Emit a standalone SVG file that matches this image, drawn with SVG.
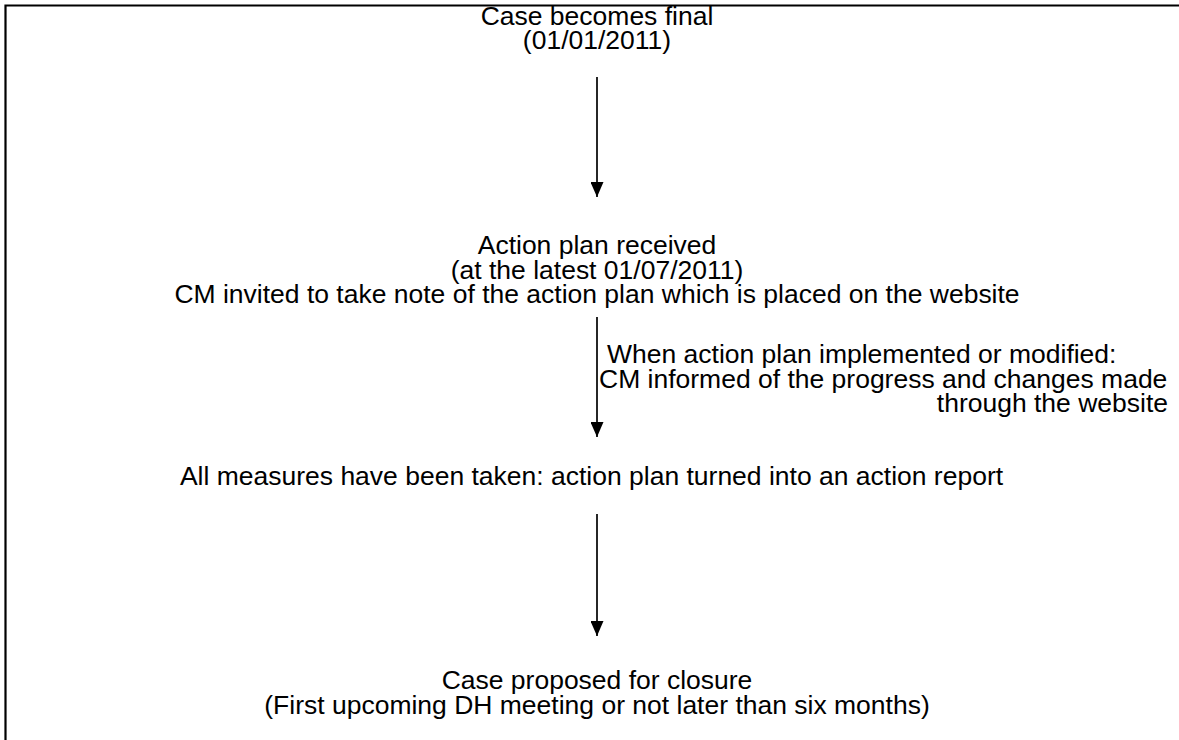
<svg xmlns="http://www.w3.org/2000/svg" width="1179" height="740" viewBox="0 0 1179 740">
<style>
text{font-family:"Liberation Sans",Arial,sans-serif;font-size:25px;fill:#000}
.c{text-anchor:middle}
.e{text-anchor:end}
.frame{fill:none;stroke:#000;stroke-width:2.2}
.conn line{stroke:#000;stroke-width:1.7}
</style>
<defs>
<marker id="ah" viewBox="0 0 15 13" refX="15" refY="6.5" markerWidth="15" markerHeight="13" markerUnits="userSpaceOnUse" orient="auto">
<path d="M0,0 L15,6.5 L0,13 Z" fill="#000"/>
</marker>
</defs>
<rect width="1179" height="740" fill="#fff"/>
<path class="frame" d="M5.5,740 V5.5 H1179"/>
<g id="n1">
<text class="c" transform="translate(597 24.5) scale(1.06 1)">Case becomes final</text>
<text class="c" transform="translate(597 49) scale(1.06 1)">(01/01/2011)</text>
</g>
<g id="n2">
<text class="c" transform="translate(597 254) scale(1.06 1)">Action plan received</text>
<text class="c" transform="translate(597 278.5) scale(1.06 1)">(at the latest 01/07/2011)</text>
<text class="c" transform="translate(597 303) scale(1.06 1)">CM invited to take note of the action plan which is placed on the website</text>
</g>
<g id="n3">
<text class="c" transform="translate(591.5 485) scale(1.06 1)">All measures have been taken: action plan turned into an action report</text>
</g>
<g id="n4">
<text class="c" transform="translate(597 689) scale(1.06 1)">Case proposed for closure</text>
<text class="c" transform="translate(597 713.5) scale(1.06 1)">(First upcoming DH meeting or not later than six months)</text>
</g>
<g id="connectors" class="conn">
<line x1="597" y1="77" x2="597" y2="197" marker-end="url(#ah)"/>
<line x1="597" y1="317" x2="597" y2="437" marker-end="url(#ah)"/>
<line x1="597" y1="514" x2="597" y2="636" marker-end="url(#ah)"/>
<g id="label2">
<text transform="translate(607 363) scale(1.06 1)">When action plan implemented or modified:</text>
<text transform="translate(599 387.5) scale(1.06 1)">CM informed of the progress and changes made</text>
<text class="e" transform="translate(1168 412) scale(1.06 1)">through the website</text>
</g>
</g>
</svg>
